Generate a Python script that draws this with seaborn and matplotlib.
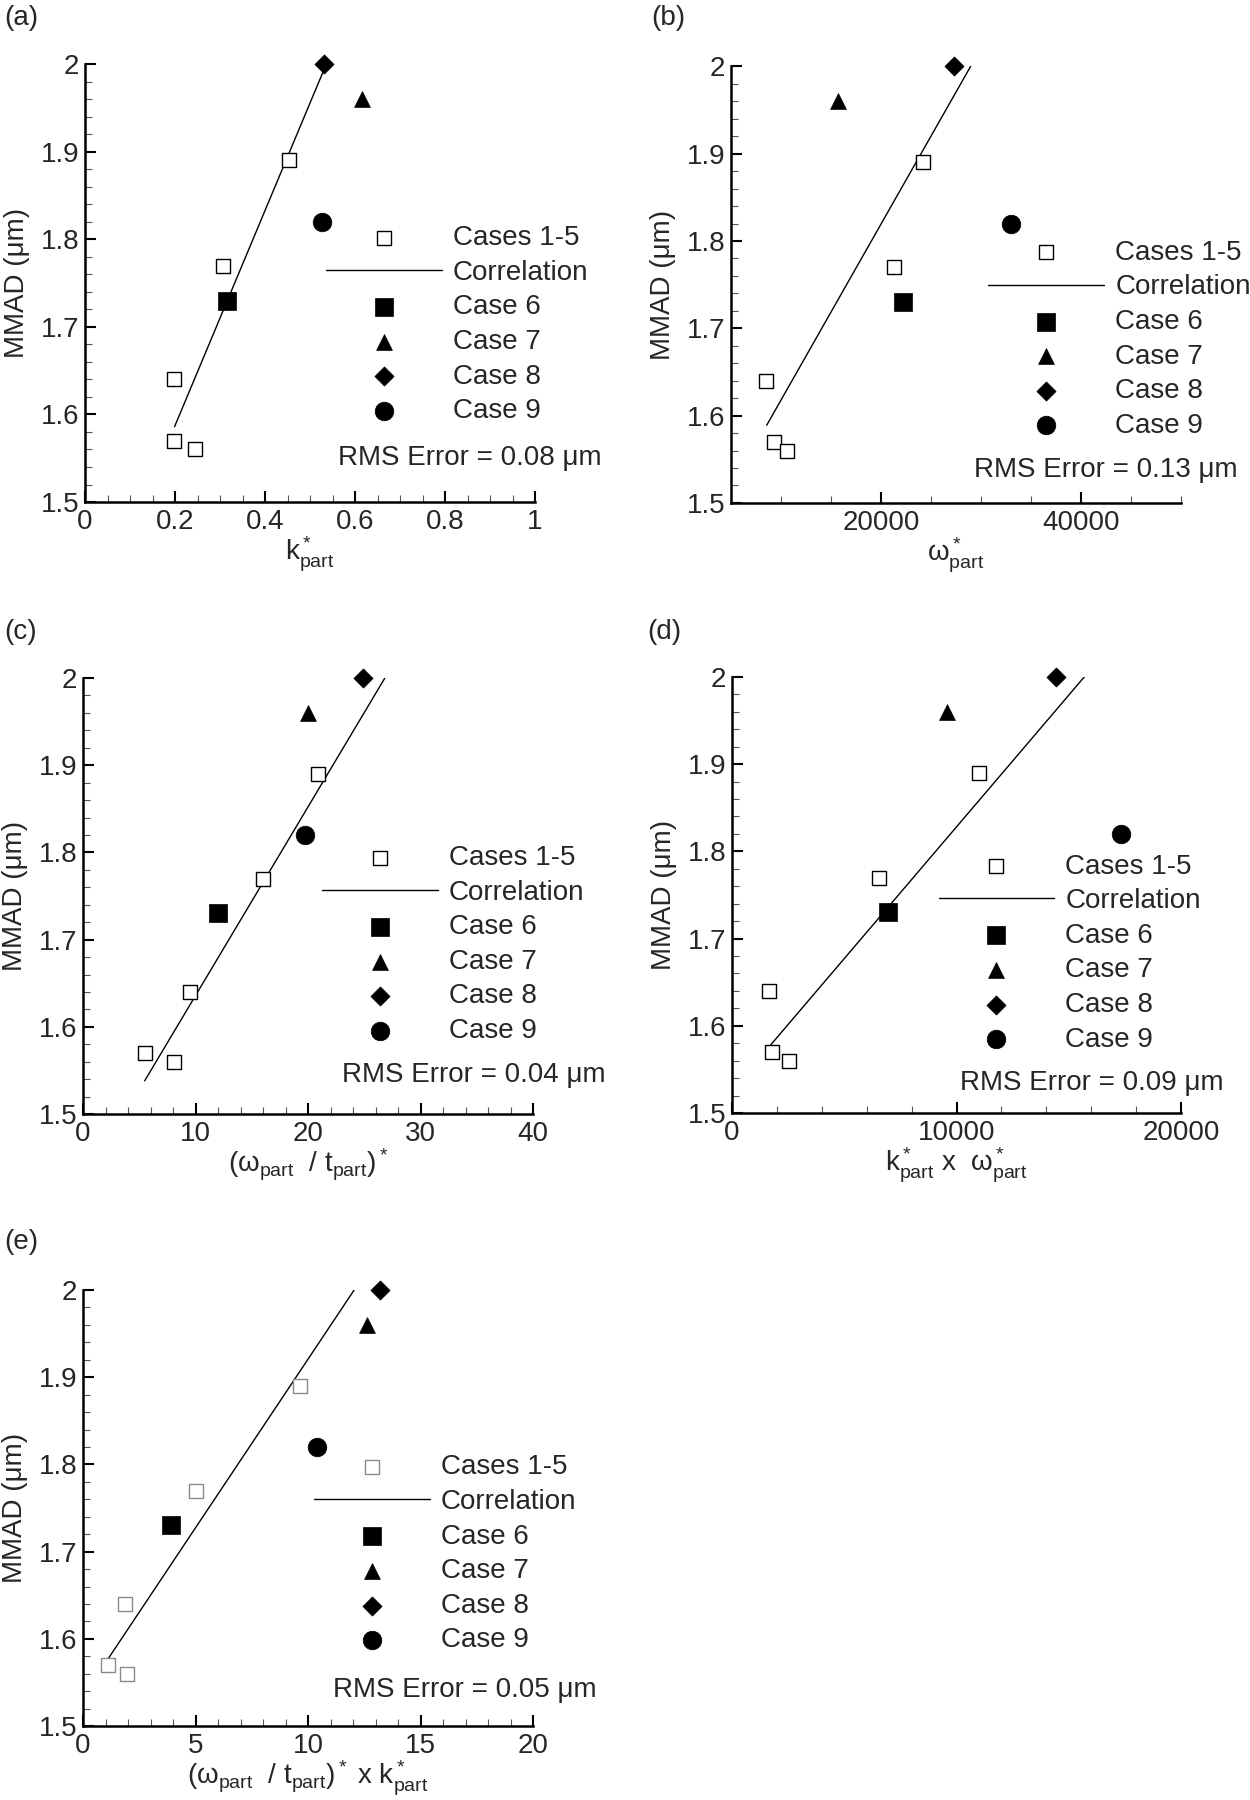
import matplotlib
matplotlib.use('Agg')
import numpy as np
import matplotlib.pyplot as plt
from matplotlib.ticker import MultipleLocator, FuncFormatter
import seaborn as sns

sns.set_style('ticks')
plt.rcParams['font.family'] = ['Liberation Sans', 'DejaVu Sans']
plt.rcParams['mathtext.fontset'] = 'custom'
plt.rcParams['mathtext.rm'] = 'Liberation Sans'
plt.rcParams['mathtext.it'] = 'Liberation Sans'
plt.rcParams['mathtext.default'] = 'regular'

# MMAD values (um), same for every panel
mmad_base = [1.64, 1.57, 1.56, 1.77, 1.89]       # cases 1-5
mmad_cases = [1.73, 1.96, 2.00, 1.82]             # cases 6, 7, 8, 9
case_labels = ['Case 6', 'Case 7', 'Case 8', 'Case 9']

# x values of each panel
k_base = [0.198, 0.198, 0.244, 0.307, 0.454]
k_cases = [0.316, 0.615, 0.531, 0.526]
omega_base = [8490, 9280, 10600, 21300, 24180]
omega_cases = [22190, 15660, 27290, 32990]
ratio_base = [9.47, 5.48, 8.08, 15.98, 20.93]
ratio_cases = [11.96, 20.0, 24.88, 19.75]
kw_base = [1656, 1799, 2547, 6536, 10989]
kw_cases = [6964, 9564, 14444, 17312]
ratiok_base = [1.87, 1.10, 1.96, 5.02, 9.63]
ratiok_cases = [3.91, 12.63, 13.2, 10.41]

# correlation lines (end points)
corr_a_x, corr_a_y = [0.199, 0.533], [1.586, 1.996]
corr_b_x, corr_b_y = [8570, 28960], [1.589, 2.0]
corr_c_x, corr_c_y = [5.48, 26.83], [1.538, 2.0]
corr_d_x, corr_d_y = [1690, 15690], [1.577, 2.0]
corr_e_x, corr_e_y = [1.14, 12.05], [1.578, 2.0]

rms_errors = ['0.08', '0.13', '0.04', '0.09', '0.05']

xlabels = [r'$k^*_{part}$',
           r'$\omega^*_{part}$',
           r'$(\omega_{part}\ \ /\ t_{part})^*$',
           r'$k^*_{part}$ x  $\omega^*_{part}$',
           r'$(\omega_{part}\ \ /\ t_{part})^*$ x $k^*_{part}$']

panels = [
    # tag, x base, x cases, corr x, corr y, xlim, major, minor, rect, legend anchor, rms pos, label pos, square edge
    ('(a)', k_base, k_cases, corr_a_x, corr_a_y, (0, 1), 0.2, 0.05,
     [0.068, 0.7211, 0.36, 0.2433], (0.535, 0.632), (0.562, 0.101), (0.003, 0.997), 'black'),
    ('(b)', omega_base, omega_cases, corr_b_x, corr_b_y, (5000, 50000), 20000, 5000,
     [0.5848, 0.7206, 0.36, 0.2425], (0.572, 0.603), (0.541, 0.075), (0.521, 0.997), 'black'),
    ('(c)', ratio_base, ratio_cases, corr_c_x, corr_c_y, (0, 40), 10, 2,
     [0.0664, 0.3811, 0.36, 0.2422], (0.531, 0.617), (0.576, 0.089), (0.003, 0.656), 'black'),
    ('(d)', kw_base, kw_cases, corr_d_x, corr_d_y, (0, 20000), 10000, 2000,
     [0.5856, 0.3817, 0.3592, 0.2422], (0.460, 0.595), (0.508, 0.068), (0.518, 0.656), 'black'),
    ('(e)', ratiok_base, ratiok_cases, corr_e_x, corr_e_y, (0, 20), 5, 1,
     [0.0664, 0.0411, 0.36, 0.2422], (0.513, 0.623), (0.555, 0.083), (0.003, 0.317), '#8a8a8a'),
]

case_markers = ['s', '^', 'D', 'o']
case_sizes = [185, 130, 95, 180]

fig = plt.figure(figsize=(12.5, 18), dpi=100)
fmt = FuncFormatter(lambda v, p: '%g' % v)

for i, (tag, xb, xc, cx, cy, xlim, major, minor, rect, leg_pos, rms_pos, tag_pos, sq_edge) in enumerate(panels):
    ax = fig.add_axes(rect)

    sns.scatterplot(x=xb, y=mmad_base, marker='s', s=95, color='white',
                    edgecolor=sq_edge, linewidth=1.0, ax=ax, label='Cases 1-5',
                    zorder=3, clip_on=False)
    sns.lineplot(x=cx, y=cy, color='black', linewidth=1.0, ax=ax,
                 label='Correlation', estimator=None, sort=False)
    for j in range(4):
        sns.scatterplot(x=[xc[j]], y=[mmad_cases[j]], marker=case_markers[j],
                        s=case_sizes[j], color='black', edgecolor='black',
                        linewidth=0.5, ax=ax, label=case_labels[j], zorder=3,
                        clip_on=False)

    ax.set_xlim(*xlim)
    ax.set_ylim(1.5, 2.0)
    ax.xaxis.set_major_locator(MultipleLocator(major))
    ax.xaxis.set_minor_locator(MultipleLocator(minor))
    ax.yaxis.set_major_locator(MultipleLocator(0.1))
    ax.yaxis.set_minor_locator(MultipleLocator(0.02))
    ax.xaxis.set_major_formatter(fmt)
    ax.yaxis.set_major_formatter(fmt)

    sns.despine(ax=ax)
    for sp in ['left', 'bottom']:
        ax.spines[sp].set_linewidth(1.8)
        ax.spines[sp].set_color('black')
    ax.tick_params(which='major', direction='in', length=8, width=1.5,
                   labelsize=20, color='black', pad=5)
    ax.tick_params(which='minor', direction='in', length=5, width=0.8, color='#555555')
    ax.tick_params(axis='y', which='major', pad=4)

    ax.set_ylabel('MMAD (\u03bcm)', fontsize=20)
    ax.yaxis.set_label_coords(-0.122, 0.5)
    ax.set_xlabel(xlabels[i], fontsize=20, va='top')
    ax.xaxis.set_label_coords(0.5, -0.075)

    handles, labels = ax.get_legend_handles_labels()
    order = ['Cases 1-5', 'Correlation'] + case_labels
    hmap = dict(zip(labels, handles))
    ax.legend([hmap[l] for l in order], order, loc='upper left',
              bbox_to_anchor=leg_pos, frameon=False, fontsize=20,
              handlelength=4.17, handletextpad=0.4, labelspacing=0.31,
              borderpad=0, borderaxespad=0, scatterpoints=1)

    ax.text(rms_pos[0], rms_pos[1], 'RMS Error = %s \u03bcm' % rms_errors[i],
            transform=ax.transAxes, fontsize=20, va='center', ha='left')
    fig.text(tag_pos[0], tag_pos[1], tag, fontsize=20, va='top', ha='left')

plt.savefig('out.png', dpi=100)
